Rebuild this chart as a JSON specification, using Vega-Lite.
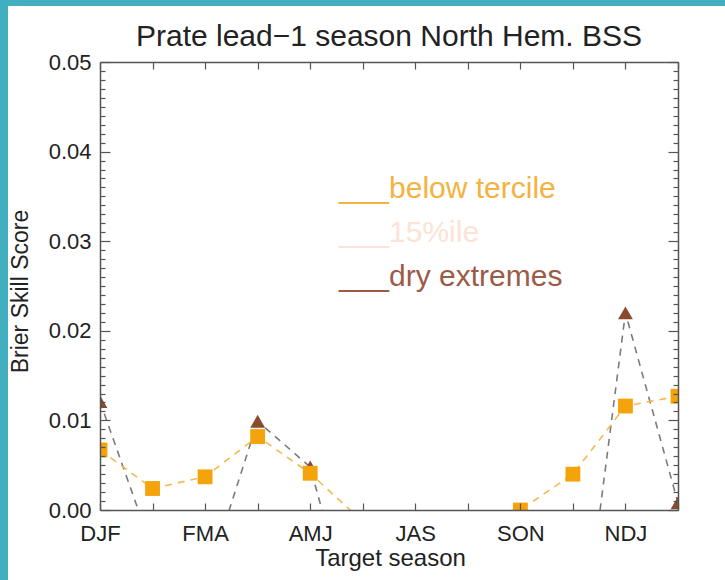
{
  "$schema": "https://vega.github.io/schema/vega-lite/v6.json",
  "width": 578,
  "height": 448,
  "autosize": {"type": "none"},
  "padding": {"left": 100, "top": 62, "right": 47, "bottom": 70},
  "background": "white",
  "title": {
    "text": "Prate lead−1 season North Hem. BSS",
    "fontSize": 30,
    "font": "Liberation Sans",
    "fontWeight": "normal",
    "color": "#222222",
    "anchor": "middle",
    "baseline": "alphabetic",
    "offset": 13,
    "dy": 91,
    "zindex": 1
  },
  "data": {
    "values": [
      {"idx": 0, "series": "dry extremes", "bss": 0.0121},
      {"idx": 1, "series": "dry extremes", "bss": -0.0045},
      {"idx": 2, "series": "dry extremes", "bss": -0.0084},
      {"idx": 3, "series": "dry extremes", "bss": 0.0099},
      {"idx": 4, "series": "dry extremes", "bss": 0.0048},
      {"idx": 5, "series": "dry extremes", "bss": -0.0165},
      {"idx": 9, "series": "dry extremes", "bss": -0.0235},
      {"idx": 10, "series": "dry extremes", "bss": 0.022},
      {"idx": 11, "series": "dry extremes", "bss": 0.0008},
      {"idx": 0, "series": "below tercile", "bss": 0.0067},
      {"idx": 1, "series": "below tercile", "bss": 0.0024},
      {"idx": 2, "series": "below tercile", "bss": 0.0037},
      {"idx": 3, "series": "below tercile", "bss": 0.0082},
      {"idx": 4, "series": "below tercile", "bss": 0.0041},
      {"idx": 5, "series": "below tercile", "bss": -0.0013},
      {"idx": 8, "series": "below tercile", "bss": 0.0},
      {"idx": 9, "series": "below tercile", "bss": 0.004},
      {"idx": 10, "series": "below tercile", "bss": 0.0116},
      {"idx": 11, "series": "below tercile", "bss": 0.0127}
    ]
  },
  "resolve": {"axis": {"x": "independent", "y": "independent"}},
  "layer": [
    {
      "data": {"values": [{"frame": "left strip"}]},
      "mark": {"type": "rect", "color": "#41AFBF", "clip": false},
      "encoding": {
        "x": {"datum": -1.922, "type": "quantitative", "scale": {"domain": [0, 11], "nice": false, "zero": false}, "axis": null},
        "x2": {"datum": -1.751},
        "y": {"datum": 0.0571, "type": "quantitative", "scale": {"domain": [0, 0.05], "nice": false, "zero": false}, "axis": null},
        "y2": {"datum": -0.0089}
      }
    },
    {
      "data": {"values": [{"frame": "top strip"}]},
      "mark": {"type": "rect", "color": "#41AFBF", "clip": false},
      "encoding": {
        "x": {"datum": -1.922, "type": "quantitative", "scale": {"domain": [0, 11], "nice": false, "zero": false}, "axis": null},
        "x2": {"datum": 11.914},
        "y": {"datum": 0.0571, "type": "quantitative", "scale": {"domain": [0, 0.05], "nice": false, "zero": false}, "axis": null},
        "y2": {"datum": 0.05625}
      }
    },
    {
      "transform": [{"filter": "datum.series === 'dry extremes'"}],
      "mark": {"type": "line", "clip": true, "strokeDash": [7, 6], "strokeWidth": 1.6, "color": "#7E7A78"},
      "encoding": {
        "x": {
          "field": "idx", "type": "quantitative",
          "scale": {"domain": [0, 11], "nice": false, "zero": false},
          "axis": {
            "orient": "bottom", "values": [0, 2, 4, 6, 8, 10], "zindex": 1,
            "labelExpr": "['DJF','','FMA','','AMJ','','JAS','','SON','','NDJ',''][datum.value]",
            "ticks": false, "tickSize": 0, "labelPadding": 30, "labelBaseline": "alphabetic",
            "labelFlush": false, "labelOverlap": false,
            "title": "Target season", "titleX": 290, "titleY": 55, "titleAlign": "center", "titleBaseline": "alphabetic",
            "titleFontSize": 24
          }
        },
        "y": {
          "field": "bss", "type": "quantitative",
          "scale": {"domain": [0, 0.05], "nice": false, "zero": false},
          "axis": {
            "orient": "left", "values": [0, 0.01, 0.02, 0.03, 0.04, 0.05], "format": ".2f", "zindex": 1,
            "ticks": false, "tickSize": 0, "labelPadding": 9, "labelFlush": false, "labelOverlap": false,
            "title": "Brier Skill Score", "titleX": -80, "titleY": 229, "titleAngle": 270,
            "titleAlign": "center", "titleBaseline": "middle", "titleFontSize": 23
          }
        }
      }
    },
    {
      "transform": [{"filter": "datum.series === 'below tercile'"}],
      "mark": {"type": "line", "clip": true, "strokeDash": [7, 6], "strokeWidth": 1.6, "color": "#F7B853"},
      "encoding": {
        "x": {"field": "idx", "type": "quantitative", "scale": {"domain": [0, 11], "nice": false, "zero": false}, "axis": null},
        "y": {"field": "bss", "type": "quantitative", "scale": {"domain": [0, 0.05], "nice": false, "zero": false}, "axis": null}
      }
    },
    {
      "mark": {"type": "point", "filled": true, "clip": true, "size": 220, "opacity": 1},
      "encoding": {
        "x": {
          "field": "idx", "type": "quantitative",
          "scale": {"domain": [0, 11], "nice": false, "zero": false},
          "axis": {"orient": "top", "values": [0, 1, 2, 3, 4, 5, 6, 7, 8, 9, 10, 11], "labels": false, "tickSize": -7, "title": null, "zindex": 1}
        },
        "y": {
          "field": "bss", "type": "quantitative",
          "scale": {"domain": [0, 0.05], "nice": false, "zero": false},
          "axis": {"orient": "right", "values": [0, 0.01, 0.02, 0.03, 0.04, 0.05], "labels": false, "tickSize": -10, "title": null, "zindex": 1}
        },
        "color": {
          "field": "series", "type": "nominal",
          "scale": {"domain": ["below tercile", "15%ile", "dry extremes"], "range": ["#F5A30A", "#FCE6D8", "#8A4A2E"]},
          "legend": {
            "orient": "none", "legendX": 209, "legendY": 112, "title": null,
            "labelExpr": "'___' + datum.label",
            "symbolSize": 0, "symbolOpacity": 0, "symbolStrokeWidth": 0,
            "labelFontSize": 30, "labelFont": "Liberation Sans", "labelOffset": 0, "labelLimit": 500,
            "labelColor": {"expr": "datum.value === 'below tercile' ? '#F4B23F' : (datum.value === '15%ile' ? '#FBE4D6' : '#9B5B47')"},
            "rowPadding": 14, "padding": 0, "zindex": 1
          }
        },
        "shape": {
          "field": "series", "type": "nominal",
          "scale": {"domain": ["below tercile", "15%ile", "dry extremes"], "range": ["square", "square", "triangle-up"]}
        }
      }
    },
    {
      "mark": {"type": "point", "opacity": 0},
      "encoding": {
        "x": {
          "field": "idx", "type": "quantitative",
          "scale": {"domain": [0, 11], "nice": false, "zero": false},
          "axis": {"orient": "bottom", "values": [0, 1, 2, 3, 4, 5, 6, 7, 8, 9, 10, 11], "labels": false, "domain": false, "tickSize": -7, "title": null, "zindex": 1}
        },
        "y": {
          "field": "bss", "type": "quantitative",
          "scale": {"domain": [0, 0.05], "nice": false, "zero": false},
          "axis": {"orient": "left", "values": [0, 0.01, 0.02, 0.03, 0.04, 0.05], "labels": false, "domain": false, "tickSize": -10, "title": null, "zindex": 1}
        }
      }
    },
    {
      "mark": {"type": "point", "opacity": 0},
      "encoding": {
        "y": {
          "field": "bss", "type": "quantitative",
          "scale": {"domain": [0, 0.05], "nice": false, "zero": false},
          "axis": {"orient": "left", "values": [0.001,0.002,0.003,0.004,0.005,0.006,0.007,0.008,0.009,0.011,0.012,0.013,0.014,0.015,0.016,0.017,0.018,0.019,0.021,0.022,0.023,0.024,0.025,0.026,0.027,0.028,0.029,0.031,0.032,0.033,0.034,0.035,0.036,0.037,0.038,0.039,0.041,0.042,0.043,0.044,0.045,0.046,0.047,0.048,0.049], "labels": false, "domain": false, "tickSize": -5, "title": null, "zindex": 1}
        }
      }
    },
    {
      "mark": {"type": "point", "opacity": 0},
      "encoding": {
        "y": {
          "field": "bss", "type": "quantitative",
          "scale": {"domain": [0, 0.05], "nice": false, "zero": false},
          "axis": {"orient": "right", "values": [0.001,0.002,0.003,0.004,0.005,0.006,0.007,0.008,0.009,0.011,0.012,0.013,0.014,0.015,0.016,0.017,0.018,0.019,0.021,0.022,0.023,0.024,0.025,0.026,0.027,0.028,0.029,0.031,0.032,0.033,0.034,0.035,0.036,0.037,0.038,0.039,0.041,0.042,0.043,0.044,0.045,0.046,0.047,0.048,0.049], "labels": false, "domain": false, "tickSize": -5, "title": null, "zindex": 1}
        }
      }
    }
  ],
  "config": {
    "font": "Liberation Sans",
    "view": {"stroke": null},
    "axis": {
      "grid": false,
      "domainColor": "#555555",
      "domainWidth": 1.5,
      "tickColor": "#555555",
      "tickWidth": 1.2,
      "labelFont": "Liberation Sans",
      "labelFontSize": 22,
      "labelColor": "#222222",
      "titleFont": "Liberation Sans",
      "titleFontSize": 22,
      "titleFontWeight": "normal",
      "titleColor": "#222222"
    }
  }
}
